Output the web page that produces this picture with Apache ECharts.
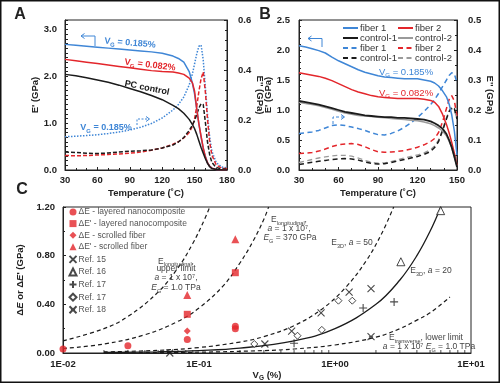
<!DOCTYPE html>
<html><head><meta charset="utf-8">
<script src="https://cdn.jsdelivr.net/npm/echarts/dist/echarts.min.js"></script>
<style>html,body{margin:0;padding:0;background:#fff}#c{width:500px;height:383px}</style>
</head><body><div id="c"></div>
<script>
// ---------------- Panel A data ----------------
const tempA = [30,40,50,60,70,80,90,100,110,120,130,135,140,145,148,150,152,154,156,158,160,162,164,166,170,175,180];
const aE1_185 = [2.68,2.66,2.64,2.62,2.60,2.58,2.56,2.54,2.52,2.49,2.43,2.38,2.30,2.10,1.85,1.62,1.30,0.98,0.70,0.46,0.28,0.15,0.08,0.04,0.01,0,0];
const aE1_082 = [2.36,2.33,2.30,2.27,2.24,2.21,2.18,2.15,2.12,2.10,2.09,2.07,2.04,1.96,1.86,1.68,1.30,0.98,0.72,0.47,0.28,0.15,0.08,0.04,0.01,0,0];
const aE1_pc  = [2.04,2.01,1.97,1.92,1.87,1.81,1.74,1.67,1.59,1.50,1.38,1.31,1.21,1.08,0.97,0.88,0.76,0.62,0.48,0.36,0.24,0.14,0.07,0.03,0.01,0,0];
const aE2_185 = [0.133,0.135,0.138,0.141,0.146,0.152,0.160,0.171,0.186,0.208,0.240,0.262,0.292,0.340,0.385,0.425,0.465,0.495,0.500,0.440,0.330,0.220,0.130,0.075,0.030,0.012,0.008];
const aE2_082 = [0.058,0.057,0.058,0.060,0.062,0.064,0.067,0.072,0.079,0.088,0.103,0.113,0.128,0.150,0.175,0.205,0.255,0.315,0.365,0.392,0.310,0.200,0.110,0.060,0.020,0.008,0.005];
const aE2_pc  = [0.072,0.070,0.067,0.066,0.068,0.072,0.075,0.077,0.080,0.088,0.100,0.112,0.130,0.158,0.180,0.198,0.222,0.248,0.265,0.262,0.190,0.110,0.060,0.030,0.010,0.004,0.003];
// ---------------- Panel B data ----------------
const tempB = [30,35,40,45,50,55,60,65,70,75,80,85,90,95,100,105,110,115,120,125,130,133,136,139,142,144,146,148,150];
const bE1_f1 = [2.07,2.05,2.02,1.99,1.95,1.88,1.82,1.77,1.72,1.67,1.63,1.60,1.57,1.55,1.54,1.53,1.52,1.52,1.52,1.50,1.48,1.45,1.40,1.32,1.22,1.10,0.92,0.65,0.25];
const bE1_f2 = [1.62,1.60,1.58,1.56,1.53,1.49,1.44,1.39,1.34,1.30,1.27,1.24,1.22,1.21,1.20,1.19,1.19,1.19,1.19,1.18,1.16,1.13,1.06,0.93,0.76,0.62,0.46,0.28,0.08];
const bE1_c1 = [1.15,1.13,1.11,1.09,1.06,1.03,1.00,0.97,0.95,0.93,0.91,0.90,0.89,0.88,0.88,0.87,0.87,0.86,0.85,0.84,0.81,0.78,0.74,0.69,0.60,0.50,0.38,0.22,0.05];
const bE1_c2 = [1.13,1.11,1.09,1.07,1.04,1.01,0.98,0.95,0.93,0.91,0.90,0.89,0.88,0.87,0.86,0.85,0.84,0.83,0.82,0.80,0.77,0.74,0.70,0.65,0.57,0.48,0.37,0.22,0.06];
const bE2_f1 = [0.122,0.124,0.127,0.132,0.140,0.148,0.151,0.148,0.143,0.138,0.132,0.124,0.118,0.117,0.122,0.130,0.142,0.157,0.175,0.195,0.218,0.235,0.255,0.278,0.300,0.315,0.324,0.320,0.290];
const bE2_f2 = [0.055,0.056,0.058,0.063,0.070,0.078,0.084,0.087,0.088,0.085,0.078,0.068,0.061,0.059,0.060,0.062,0.065,0.070,0.076,0.084,0.095,0.105,0.125,0.160,0.205,0.235,0.248,0.230,0.180];
const bE2_c1 = [0.018,0.022,0.026,0.029,0.032,0.035,0.037,0.038,0.037,0.033,0.027,0.022,0.020,0.021,0.025,0.030,0.035,0.040,0.045,0.052,0.062,0.075,0.095,0.130,0.170,0.195,0.210,0.205,0.170];
const bE2_c2 = [0.025,0.030,0.035,0.040,0.044,0.047,0.049,0.049,0.046,0.040,0.032,0.026,0.023,0.024,0.028,0.034,0.040,0.045,0.050,0.057,0.068,0.080,0.100,0.135,0.175,0.195,0.205,0.200,0.170];
// ---------------- Panel C data ----------------
const cLayeredE  = [[0.01,0.033],[0.03,0.06],[0.082,0.11],[0.185,0.20],[0.185,0.22]];
const cLayeredE2 = [[0.082,0.318],[0.185,0.66]];
const cScrolledE = [[0.082,0.18]];
const cScrolledE2= [[0.082,0.477],[0.185,0.934]];
const cRef15 = [[0.305,0.074],[0.48,0.18],[0.79,0.33],[1.27,0.50],[1.84,0.53]];
const cRef16 = [[3.05,0.75],[5.98,1.17]];
const cRef17a = [[0.50,0.08],[1.61,0.37],[2.72,0.42]];
const cRef17b = [[0.255,0.074],[0.53,0.142],[0.80,0.19],[1.06,0.43],[1.34,0.43]];
const cRef18 = [[0.061,0.0],[1.84,0.134]];
const cLongTPa  = [[0.01,0.10],[0.02,0.20],[0.03,0.30],[0.05,0.50],[0.07,0.70],[0.09,0.90],[0.11,1.10],[0.12,1.20]];
const cLong370  = [[0.01,0.037],[0.02,0.074],[0.04,0.15],[0.07,0.26],[0.1,0.37],[0.15,0.55],[0.2,0.74],[0.25,0.92],[0.3,1.10],[0.325,1.20]];
const c3D50     = [[0.02,0.009],[0.05,0.022],[0.1,0.045],[0.2,0.09],[0.3,0.135],[0.5,0.225],[0.8,0.36],[1.2,0.54],[1.7,0.76],[2.2,0.98],[2.7,1.20]];
const c3D20     = [[0.02,0.004],[0.05,0.01],[0.1,0.02],[0.2,0.04],[0.5,0.10],[1,0.20],[2,0.40],[3,0.60],[4,0.80],[5,1.00],[6,1.20]];
const cTrans    = [[0.02,0.0013],[0.1,0.0066],[0.3,0.02],[0.5,0.033],[1,0.066],[2,0.13],[3,0.20],[4,0.27],[5,0.33],[7,0.46]];
const cMinorX = [0.02,0.03,0.04,0.05,0.06,0.07,0.08,0.09,0.2,0.3,0.4,0.5,0.6,0.7,0.8,0.9,2,3,4,5,6,7,8,9];

const BLUE='#3f86d6', RED='#e3262b', BLK='#1b1b1b', GRAY='#9a9a9a', TXT='#222';
const FONT='"Liberation Sans", Arial, sans-serif';
const zip = (xs, ys) => xs.map((x,i)=>[x, ys[i]]);

const chart = echarts.init(document.getElementById('c'), null, {renderer:'canvas'});

function lineS(name, xi, yi, data, color, type, width, z){
  return {name, type:'line', xAxisIndex:xi, yAxisIndex:yi, data, symbol:'none', silent:true,
    lineStyle:{color, type:type||'solid', width:width||1.4}, itemStyle:{color, opacity:0}, z:z||2, animation:false};
}
const tickStyle = {inside:true, length:3, lineStyle:{color:TXT}};
const minorStyle = (n)=>({show:true, splitNumber:n, length:2, lineStyle:{color:TXT}});
const lbl = {color:TXT, fontSize:9.5, fontWeight:'bold', fontFamily:FONT};
const nameSt = {color:TXT, fontSize:9.5, fontWeight:'bold', fontFamily:FONT};

const richSub = {
  v:{fontSize:9.5,fontWeight:'bold',color:TXT,fontFamily:FONT,lineHeight:13},
  s:{fontSize:6.5,fontWeight:'bold',color:TXT,fontFamily:FONT,lineHeight:13,verticalAlign:'bottom'}
};
const legB = (left, data)=>({orient:'vertical', left, top:23, padding:0, itemWidth:15, itemHeight:8, itemGap:0, selectedMode:false,
     data, formatter:(n)=>n.trim(), itemStyle:{opacity:0},
     textStyle:{fontSize:9.5, lineHeight:10, color:'#333', fontFamily:FONT, padding:[0,0,0,-3]}});

const option = {
  animation:false,
  backgroundColor:'#fff',
  textStyle:{fontFamily:FONT},
  grid:[
    {left:65, top:20, width:162, height:150, show:true, borderColor:TXT, borderWidth:1},
    {left:299, top:20, width:158, height:150, show:true, borderColor:TXT, borderWidth:1},
    {left:63, top:207, width:408, height:146, show:true, borderColor:TXT, borderWidth:1}
  ],
  xAxis:[
    {gridIndex:0, type:'value', min:30, max:180, interval:30, axisLine:{lineStyle:{color:TXT}},
     axisTick:tickStyle, minorTick:minorStyle(3), splitLine:{show:false}, axisLabel:Object.assign({margin:5},lbl),
     name:'Temperature (˚C)', nameLocation:'middle', nameGap:18, nameTextStyle:nameSt},
    {gridIndex:1, type:'value', min:30, max:150, interval:30, axisLine:{lineStyle:{color:TXT}},
     axisTick:tickStyle, minorTick:minorStyle(3), splitLine:{show:false}, axisLabel:Object.assign({margin:5},lbl),
     name:'Temperature (˚C)', nameLocation:'middle', nameGap:18, nameTextStyle:nameSt},
    {gridIndex:2, type:'log', logBase:10, min:0.01, max:10, axisLine:{lineStyle:{color:TXT}},
     axisTick:{show:false}, splitLine:{show:false},
     axisLabel:Object.assign({margin:6, formatter:(v)=>{const e=Math.round(Math.log10(v));return '1E'+(e<0?'-':'+')+String(Math.abs(e)).padStart(2,'0');}},lbl),
     name:'{v|V}{s|G}{v| (%)}', nameLocation:'middle', nameGap:14, nameTextStyle:{rich:richSub}}
  ],
  yAxis:[
    {gridIndex:0, type:'value', min:0, max:3.2, interval:0.1, position:'left', axisLine:{lineStyle:{color:TXT}},
     axisTick:tickStyle, splitLine:{show:false},
     axisLabel:Object.assign({margin:8, formatter:(v)=>Math.abs(v-Math.round(v))<1e-6?v.toFixed(1):''},lbl),
     name:"E' (GPa)", nameLocation:'middle', nameGap:24, nameTextStyle:nameSt},
    {gridIndex:0, type:'value', min:0, max:0.6, interval:0.2, position:'right', axisLine:{lineStyle:{color:TXT}},
     axisTick:tickStyle, minorTick:minorStyle(5), splitLine:{show:false},
     axisLabel:Object.assign({margin:11, formatter:(v)=>v.toFixed(1)},lbl),
     name:"E'' (GPa)", nameLocation:'middle', nameGap:21, nameRotate:-90, nameTextStyle:nameSt},
    {gridIndex:1, type:'value', min:0, max:2.5, interval:0.5, position:'left', axisLine:{lineStyle:{color:TXT}},
     axisTick:tickStyle, minorTick:minorStyle(5), splitLine:{show:false},
     axisLabel:Object.assign({margin:9, formatter:(v)=>v.toFixed(1)},lbl),
     name:"E' (GPa)", nameLocation:'middle', nameGap:24, nameTextStyle:nameSt},
    {gridIndex:1, type:'value', min:0, max:0.5, interval:0.1, position:'right', axisLine:{lineStyle:{color:TXT}},
     axisTick:tickStyle, minorTick:minorStyle(2), splitLine:{show:false},
     axisLabel:Object.assign({margin:11, formatter:(v)=>v.toFixed(1)},lbl),
     name:"E'' (GPa)", nameLocation:'middle', nameGap:28, nameRotate:-90, nameTextStyle:nameSt},
    {gridIndex:2, type:'value', min:0, max:1.2, interval:0.4, axisLine:{lineStyle:{color:TXT}},
     axisTick:tickStyle, minorTick:minorStyle(2), splitLine:{show:false},
     axisLabel:Object.assign({margin:8, formatter:(v)=>v.toFixed(2)},lbl),
     name:"{n|Δ}{i|E}{n| or Δ}{i|E}{n|' (GPa)}", nameLocation:'middle', nameGap:29,
     nameTextStyle:{rich:{n:{fontSize:9.5,fontWeight:'bold',color:TXT,fontFamily:FONT},i:{fontSize:9.5,fontWeight:'bold',fontStyle:'italic',color:TXT,fontFamily:FONT}}}}
  ],
  legend:[
    legB(342, ['fiber 1','control-1','fiber 1 ','control-1 ']),
    legB(397, ['fiber 2','control-2','fiber 2 ','control-2 ']),
    {orient:'vertical', left:67, top:207, padding:0, itemWidth:7, itemHeight:7, itemGap:1.6, selectedMode:false,
     data:['ΔE - layered nanocomposite',"ΔE' - layered nanocomposite",'ΔE - scrolled fiber',"ΔE' - scrolled fiber",'Ref. 15','Ref. 16','Ref. 17','Ref. 17 ','Ref. 18'],
     formatter:(n)=>n.trim(),
     textStyle:{fontSize:8.5, lineHeight:10, color:'#555', fontFamily:FONT, padding:[0,0,0,-3]}}
  ],
  series:[
    // A
    lineS('a185', 0,0, zip(tempA,aE1_185), BLUE,'solid',1.5,3),
    lineS('a082', 0,0, zip(tempA,aE1_082), RED,'solid',1.5,3),
    lineS('apc', 0,0, zip(tempA,aE1_pc), BLK,'solid',1.5,3),
    lineS('a185d', 0,1, zip(tempA,aE2_185), BLUE,'dotted',1.5,2),
    lineS('a082d', 0,1, zip(tempA,aE2_082), RED,[4,2],1.5,2),
    lineS('apcd', 0,1, zip(tempA,aE2_pc), BLK,[4,2],1.5,2),
    // B
    lineS('fiber 1', 1,2, zip(tempB,bE1_f1), BLUE,'solid',1.5,3),
    lineS('fiber 2', 1,2, zip(tempB,bE1_f2), RED,'solid',1.5,3),
    lineS('control-2', 1,2, zip(tempB,bE1_c2), GRAY,'solid',1.5,3),
    lineS('control-1', 1,2, zip(tempB,bE1_c1), BLK,'solid',1.8,3),
    lineS('fiber 1 ', 1,3, zip(tempB,bE2_f1), BLUE,[5,3.5],1.5,2),
    lineS('fiber 2 ', 1,3, zip(tempB,bE2_f2), RED,[5,3.5],1.5,2),
    lineS('control-2 ', 1,3, zip(tempB,bE2_c2), GRAY,[5,3.5],1.3,2),
    lineS('control-1 ', 1,3, zip(tempB,bE2_c1), BLK,[5,3.5],1.5,2),
    // C curves
    Object.assign(lineS('cTPa',2,4,cLongTPa,BLK,[4,3],1.2,2),{smooth:0.4}),
    Object.assign(lineS('c370',2,4,cLong370,BLK,[4,3],1.2,2),{smooth:0.4}),
    Object.assign(lineS('c50',2,4,c3D50,BLK,[4,3],1.2,2),{smooth:0.4}),
    Object.assign(lineS('c20',2,4,c3D20,BLK,'solid',1.3,2),{smooth:0.4}),
    Object.assign(lineS('ctr',2,4,cTrans,BLK,[4,3],1.2,2),{smooth:0.4}),
    // C minor log ticks
    {type:'scatter', xAxisIndex:2, yAxisIndex:4, data:cMinorX.map(v=>[v,0]), symbol:'rect', symbolSize:[1,3],
     symbolOffset:[0,-1.5], itemStyle:{color:TXT}, silent:true, clip:false, z:1, animation:false},
    // C markers
    {name:'ΔE - layered nanocomposite', type:'scatter', xAxisIndex:2, yAxisIndex:4, data:cLayeredE, symbol:'circle', symbolSize:7, itemStyle:{color:RED}, clip:false, z:5},
    {name:"ΔE' - layered nanocomposite", type:'scatter', xAxisIndex:2, yAxisIndex:4, data:cLayeredE2, symbol:'rect', symbolSize:7, itemStyle:{color:RED}, z:5},
    {name:'ΔE - scrolled fiber', type:'scatter', xAxisIndex:2, yAxisIndex:4, data:cScrolledE, symbol:'diamond', symbolSize:7, itemStyle:{color:RED}, z:5},
    {name:"ΔE' - scrolled fiber", type:'scatter', xAxisIndex:2, yAxisIndex:4, data:cScrolledE2, symbol:'triangle', symbolSize:8, itemStyle:{color:RED}, z:5},
    {name:'Ref. 15', type:'scatter', xAxisIndex:2, yAxisIndex:4, data:cRef15, symbol:'path://M0,0L10,10M10,0L0,10', symbolSize:7, itemStyle:{color:'none', borderColor:BLK, borderWidth:1.1}, z:5},
    {name:'Ref. 16', type:'scatter', xAxisIndex:2, yAxisIndex:4, data:cRef16, symbol:'triangle', symbolSize:8, itemStyle:{color:'#fff', borderColor:BLK, borderWidth:1}, z:5},
    {name:'Ref. 17', type:'scatter', xAxisIndex:2, yAxisIndex:4, data:cRef17a, symbol:'path://M5,0L5,10M0,5L10,5', symbolSize:8, itemStyle:{color:'none', borderColor:BLK, borderWidth:1.1}, z:5},
    {name:'Ref. 17 ', type:'scatter', xAxisIndex:2, yAxisIndex:4, data:cRef17b, symbol:'diamond', symbolSize:7, itemStyle:{color:'#fff', borderColor:BLK, borderWidth:1}, z:5},
    {name:'Ref. 18', type:'scatter', xAxisIndex:2, yAxisIndex:4, data:cRef18, symbol:'path://M0,0L10,10M10,0L0,10M2,5L8,5', symbolSize:7, itemStyle:{color:'none', borderColor:BLK, borderWidth:1.1}, clip:false, z:5}
  ],
  graphic:[]
};

const G = [];
function txt(x,y,text,opts){
  G.push(Object.assign({type:'text', x, y, silent:true, z:100,
    style:Object.assign({text, fontFamily:FONT, fontSize:9, fill:TXT, align:'center', verticalAlign:'middle'}, opts&&opts.style||{})},
    opts&&opts.el||{}));
}
function rich(size, color, bold){
  const w = bold?'bold':'normal';
  return {
    v:{fontSize:size, fill:color, color, fontWeight:w, fontFamily:FONT, lineHeight:size+4},
    i:{fontSize:size, fill:color, color, fontWeight:w, fontStyle:'italic', fontFamily:FONT, lineHeight:size+4},
    s:{fontSize:size*0.65, fill:color, color, fontWeight:w, fontFamily:FONT, lineHeight:size+4, verticalAlign:'bottom'},
    si:{fontSize:size*0.65, fill:color, color, fontWeight:w, fontStyle:'italic', fontFamily:FONT, lineHeight:size+4, verticalAlign:'bottom'}
  };
}
function poly(points, color, dash, w){
  G.push({type:'polyline', silent:true, z:100, shape:{points}, style:{stroke:color, fill:null, lineWidth:w||1, lineDash:dash||null}});
}
// panel letters
txt(20,15,'A',{style:{fontSize:16,fontWeight:'bold'}});
txt(265,15,'B',{style:{fontSize:16,fontWeight:'bold'}});
txt(22,190,'C',{style:{fontSize:16,fontWeight:'bold'}});
// A annotations
txt(130,43,'{v|V}{s|G}{v| = 0.185%}',{style:{rich:rich(9,BLUE,true)}, el:{rotation:-0.08}});
txt(150,65,'{v|V}{s|G}{v| = 0.082%}',{style:{rich:rich(9,RED,true)}, el:{rotation:-0.12}});
txt(147,88,'{v|PC control}',{style:{rich:rich(9,BLK,true)}, el:{rotation:-0.2}});
txt(106,128,'{v|V}{s|G}{v| = 0.185%}',{style:{rich:rich(9,BLUE,true)}});
poly([[81,36],[95,36],[95,46]], BLUE, null, 1);
poly([[84.5,33.5],[81,36],[84.5,38.5]], BLUE, null, 1);
poly([[137,125],[137,119],[149,119]], BLUE, [2,1.5], 1);
poly([[146,116.5],[149.5,119],[146,121.5]], BLUE, null, 1);
// B annotations
txt(406,72,'{v|V}{s|G}{v| = 0.185%}',{style:{rich:rich(9.5,BLUE,false)}});
txt(406,93,'{v|V}{s|G}{v| = 0.082%}',{style:{rich:rich(9.5,RED,false)}});
poly([[308,38.5],[322,38.5],[322,47]], BLUE, null, 1);
poly([[311.5,36],[308,38.5],[311.5,41]], BLUE, null, 1);
poly([[333,124],[333,117],[344,117]], BLUE, [3,2], 1);
poly([[341,114.5],[344.5,117],[341,119.5]], BLUE, null, 1);
// C annotations
const CT='#444';
txt(176,261.5,'{v|E}{s|longitudinal}{v|,}',{style:{rich:rich(8.5,CT,false)}});
txt(176,269,'{v|upper limit}',{style:{rich:rich(8.5,CT,false)}});
txt(176,277.5,'{i|a}{v| = 1 x 10⁷,}',{style:{rich:rich(8.5,CT,false)}});
txt(176,288,'{i|E}{s|G}{v| = 1.0 TPa}',{style:{rich:rich(8.5,CT,false)}});
txt(289,220,'{v|E}{s|longitudinal}{v|,}',{style:{rich:rich(8.5,CT,false)}});
txt(289,228.5,'{i|a}{v| = 1 x 10⁷,}',{style:{rich:rich(8.5,CT,false)}});
txt(290,238,'{i|E}{s|G}{v| = 370 GPa}',{style:{rich:rich(8.5,CT,false)}});
txt(352,243,'{v|E}{s|3D}{v|, }{i|a}{v| = 50}',{style:{rich:rich(8.5,CT,false)}});
txt(431,271,'{v|E}{s|3D}{v|, }{i|a}{v| = 20}',{style:{rich:rich(8.5,CT,false)}});
txt(426,338,'{v|E}{s|transverse}{v|, lower limit}',{style:{rich:rich(8.5,CT,false)}});
txt(429,347,'{i|a}{v| = 1 x 10⁷ }{i|E}{s|G}{v| = 1.0 TPa}',{style:{rich:rich(8.5,CT,false)}});
// outer frame
G.push({type:'rect', silent:true, z:200, shape:{x:0.75,y:0.75,width:498.5,height:381.5}, style:{fill:null, stroke:'#111', lineWidth:1.5}});
option.graphic = G;
chart.setOption(option);
</script></body></html>
